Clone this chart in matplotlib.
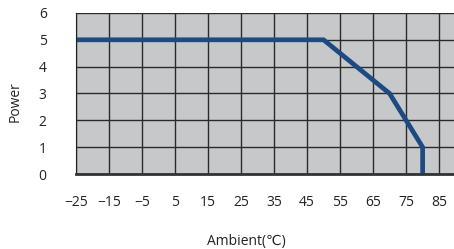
import matplotlib
matplotlib.use("Agg")
import matplotlib.pyplot as plt

# Derating curve
temps = [-25, 50, 70, 80, 80]
power = [5, 5, 3, 1, 0]

# Tick labels
x_ticks = [-25, -15, -5, 5, 15, 25, 35, 45, 55, 65, 75, 85]
y_ticks = [0, 1, 2, 3, 4, 5, 6]

plt.rcParams['font.family'] = ['Open Sans', 'DejaVu Sans']

fig = plt.figure(figsize=(4.54, 2.49), dpi=100)
ax = fig.add_axes([0.167, 0.301, 0.833, 0.647])

# Background and grid
ax.set_facecolor('#c7c8ca')
ax.set_axisbelow(True)
ax.grid(True, color='#2a2a2a', linewidth=1.0)

# Curve
ax.plot(temps, power, color='#1d4a80', linewidth=3.4, solid_joinstyle='miter')

ax.set_xlim(-25, 89.5)
ax.set_ylim(0, 6)
ax.set_xticks(x_ticks)
ax.set_yticks(y_ticks)
ax.set_xticklabels([str(t).replace('-', '\u2212') for t in x_ticks])
ax.tick_params(axis='both', length=0, labelsize=10, colors='#222222')
ax.tick_params(axis='x', pad=15)
ax.tick_params(axis='y', pad=21)

for s in ['top', 'right']:
    ax.spines[s].set_visible(False)
ax.spines['left'].set_color('#222222')
ax.spines['bottom'].set_color('#333333')
ax.spines['bottom'].set_linewidth(2)

ax.set_xlabel('Ambient(℃)', fontsize=10, color='#222222')
ax.set_ylabel('Power', fontsize=10, color='#222222')
ax.xaxis.set_label_coords(0.45, -0.37)
ax.yaxis.set_label_coords(-0.14, 0.45)

fig.savefig('out.png', dpi=100)
